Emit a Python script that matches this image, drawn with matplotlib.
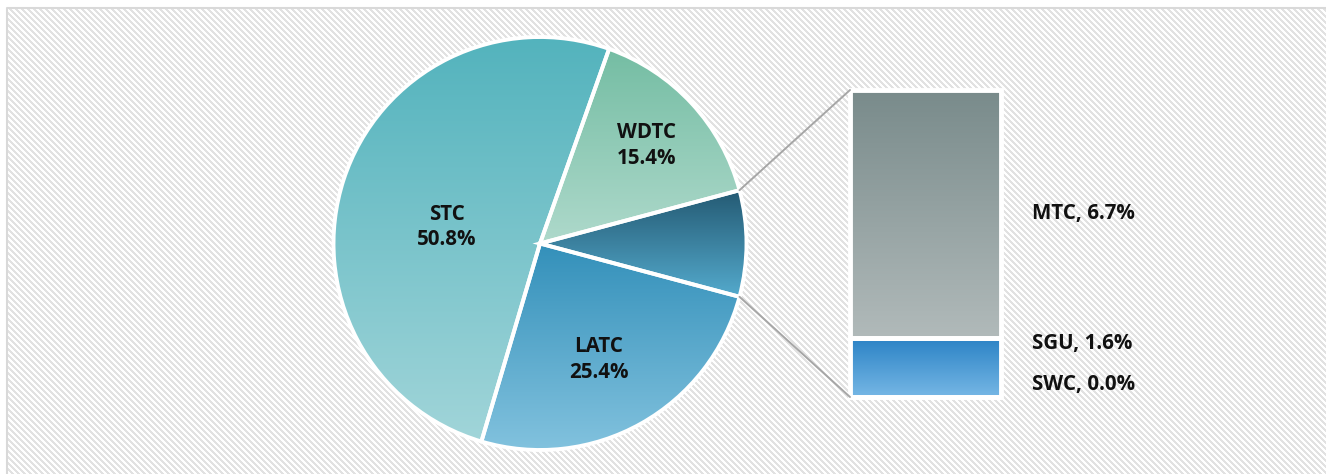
import numpy as np
import matplotlib
matplotlib.use('Agg')
import matplotlib.pyplot as plt
from matplotlib.colors import LinearSegmentedColormap
from matplotlib.patches import ConnectionPatch

plt.rcParams['font.family'] = ['Open Sans', 'DejaVu Sans']

# main pie (the first slice is split into the bar on the right)
pie_labels = ['WDTC', 'STC', 'LATC']
pie_values = [15.4, 50.8, 25.4]
# breakdown bar, bottom to top
sub_labels = ['SWC', 'SGU', 'MTC']
sub_values = [0.0, 1.6, 6.7]

other = sum(sub_values)
values = [other] + pie_values

# gradient fills (top, bottom)
pie_grad = [('#245a73', '#54aacd'),
            ('#74bda3', '#aed9cb'),
            ('#53b3bd', '#a1d5d9'),
            ('#3390ba', '#82c2de')]
sub_grad = [('#2a82c5', '#76b7e5'),
            ('#2a82c5', '#76b7e5'),
            ('#798b8b', '#b1baba')]

W, H = 1326, 474
fig = plt.figure(figsize=(W / 100, H / 100), dpi=100)


def gradient_fill(ax, patch, top, bottom):
    patch.set_facecolor('none')
    bb = patch.get_path().transformed(patch.get_patch_transform()).get_extents()
    if bb.height <= 0:
        return
    cmap = LinearSegmentedColormap.from_list('g', [bottom, top])
    grad = np.linspace(0, 1, 256).reshape(-1, 1)
    im = ax.imshow(grad, cmap=cmap, origin='lower', aspect='auto',
                   extent=[bb.x0, bb.x1, bb.y0, bb.y1], zorder=patch.get_zorder() - 0.1,
                   interpolation='bilinear')
    im.set_clip_path(patch)


# hatched background inside the chart frame
bg = fig.add_axes([0, 0, 1, 1], zorder=-1)
yy, xx = np.mgrid[0:H, 0:W]
stripe = ((xx - yy) % 6) < 3
inside = (xx >= 8) & (yy >= 9)
img = np.ones((H, W, 3))
img[stripe & inside] = np.array([0xe2, 0xe2, 0xe2]) / 255
bg.imshow(img, extent=[0, W, H, 0], interpolation='nearest', aspect='auto')
bg.plot([7, 7, W], [H, 8, 8], color='#d9d9d9', lw=1.5)
bg.set_xlim(0, W)
bg.set_ylim(H, 0)
bg.axis('off')

# pie
cx, cy, r = 540, 243.5, 206.5
ax = fig.add_axes([(cx - r) / W, (H - cy - r) / H, 2 * r / W, 2 * r / H])
start = -other / sum(values) * 360 / 2
wedges, _ = ax.pie(values, startangle=start, counterclock=True, radius=1,
                   wedgeprops=dict(edgecolor='white', linewidth=2.8))
for w, (t, b) in zip(wedges, pie_grad):
    gradient_fill(ax, w, t, b)

label_r = [0.70, 0.46, 0.63]
label_shift = [0, 8, -2.5]
for w, name, val, lr, sh in zip(wedges[1:], pie_labels, pie_values, label_r, label_shift):
    ang = np.deg2rad((w.theta1 + w.theta2) / 2 + sh)
    ax.text(lr * np.cos(ang), lr * np.sin(ang), f'{name}\n{val:.1f}%',
            ha='center', va='center', fontsize=14.8, fontweight='bold',
            color='#111111', linespacing=1.3)
ax.set_xlim(-1, 1)
ax.set_ylim(-1, 1)
ax.set_aspect('equal')
ax.axis('off')

# breakdown bar
bx0, bx1, by0, by1 = 850, 1001, 90, 397
ax2 = fig.add_axes([bx0 / W, (H - by1) / H, (bx1 - bx0) / W, (by1 - by0) / H])
bottoms = np.concatenate([[0], np.cumsum(sub_values)[:-1]])
bars = ax2.bar(0, sub_values, bottom=bottoms, width=1, edgecolor='white',
               linewidth=3.5, clip_on=False)
for bar, (t, b) in zip(bars, sub_grad):
    gradient_fill(ax2, bar, t, b)
ax2.set_xlim(-0.5, 0.5)
ax2.set_ylim(0, other)
ax2.axis('off')

label_off = [9, 17, 0]
for name, val, bot, off in zip(sub_labels, sub_values, bottoms, label_off):
    ax2.annotate(f'{name}, {val:.1f}%', xy=(0.5, bot + val / 2), xycoords='data',
                 xytext=(22, off), textcoords='offset points',
                 ha='left', va='center', fontsize=14.8, fontweight='bold',
                 color='#111111', annotation_clip=False)

# connector lines from the split slice to the bar
ow = wedges[0]
for theta, ybar in [(ow.theta2, other), (ow.theta1, 0)]:
    a = np.deg2rad(theta)
    con = ConnectionPatch(xyA=(np.cos(a), np.sin(a)), coordsA=ax.transData,
                          xyB=(-0.5, ybar), coordsB=ax2.transData,
                          color='#a6a6a6', lw=1.4)
    fig.add_artist(con)

fig.savefig('out.png', dpi=100)
